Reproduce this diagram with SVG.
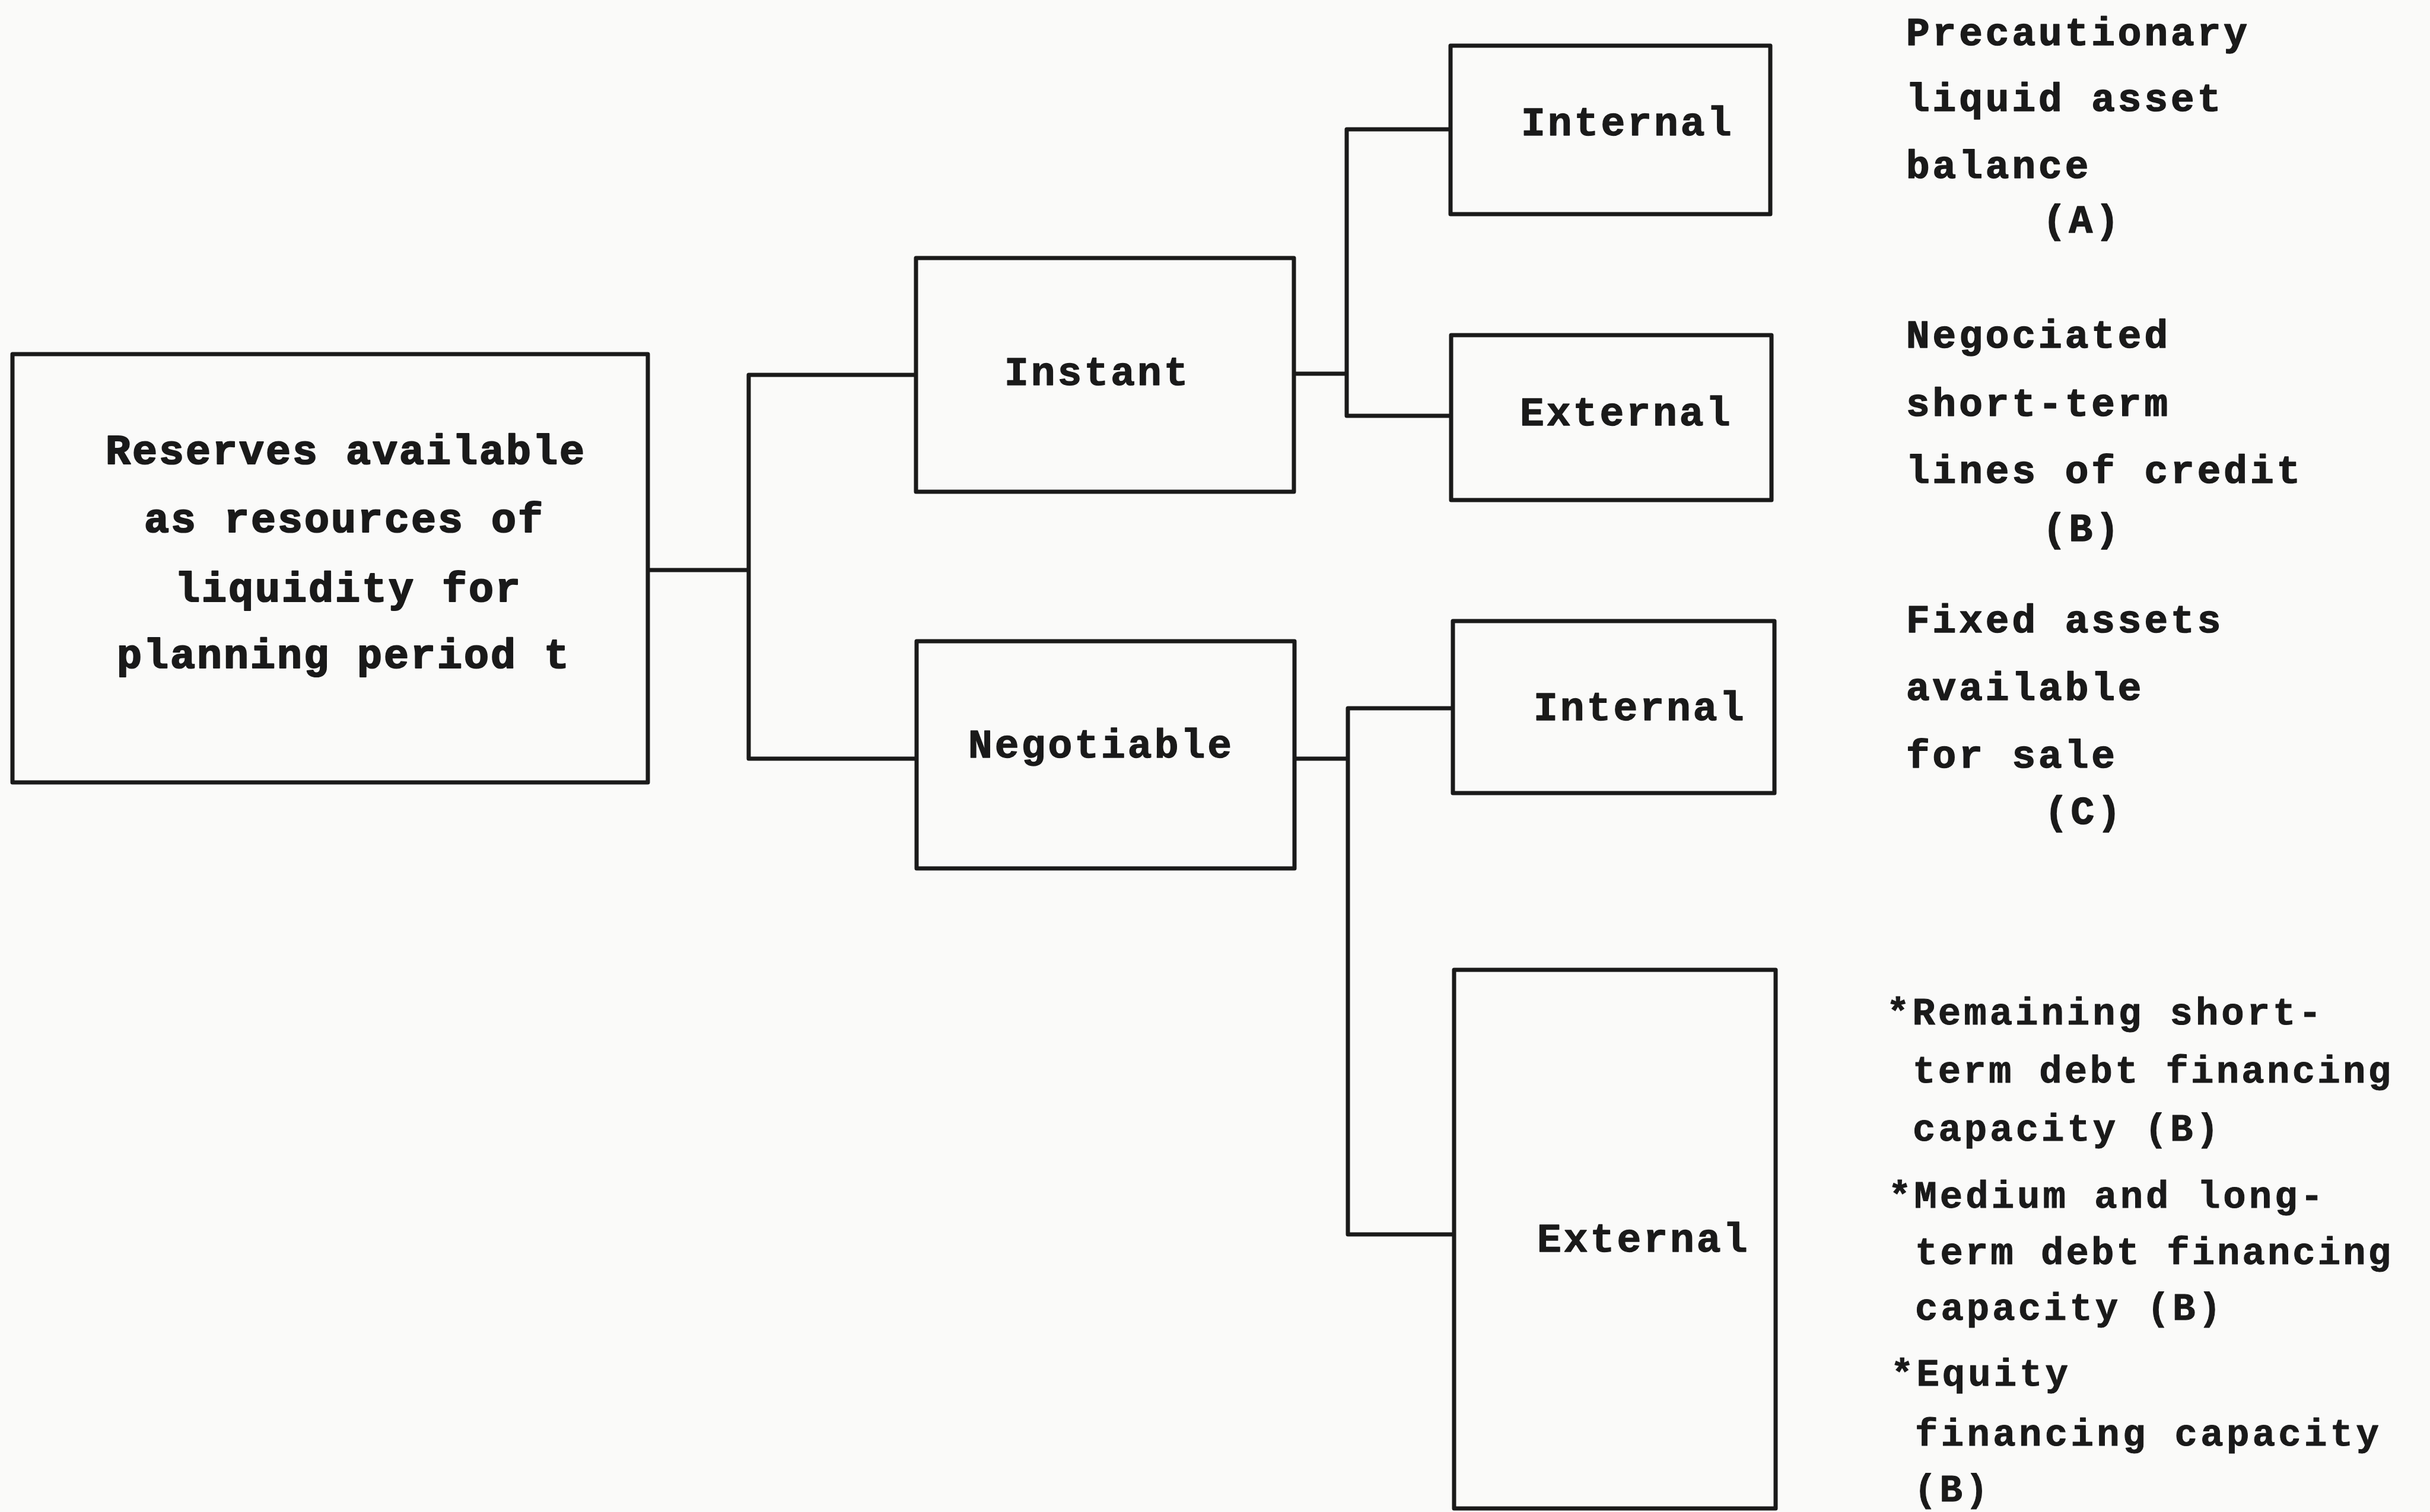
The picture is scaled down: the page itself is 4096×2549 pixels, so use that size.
<svg xmlns="http://www.w3.org/2000/svg" width="4096" height="2549" viewBox="0 0 4096 2549">
  <style>
    .box { fill: none; stroke: #1a1a1a; stroke-width: 7; stroke-linejoin: round; }
    .wire { fill: none; stroke: #1a1a1a; stroke-width: 7; stroke-linejoin: round; }
    .tt { font-family: "Liberation Mono", "DejaVu Sans Mono", monospace; font-weight: 700; fill: #1a1a1a; stroke: #1a1a1a; stroke-linejoin: round; }
    .main { font-size: 70px; letter-spacing: 3px; stroke-width: 2.2px; }
    .lbl { font-size: 68px; letter-spacing: 4px; stroke-width: 1.4px; }
    .note { font-size: 66px; letter-spacing: 5px; stroke-width: 1.6px; }
    .note2 { font-size: 64px; letter-spacing: 5px; stroke-width: 1px; }
  </style>

  <rect width="4096" height="2549" fill="#fafaf9"/>

  <!-- tree connectors: elbow joins from each parent to its two children -->
  <g id="connectors">
    <path class="wire" d="M1092 961 H1262"/>
    <path class="wire" d="M1544 632 H1262 V1279 H1545"/>
    <path class="wire" d="M2181 630 H2270"/>
    <path class="wire" d="M2445 218 H2270 V701 H2446"/>
    <path class="wire" d="M2182 1279 H2272"/>
    <path class="wire" d="M2449 1194 H2272 V2081 H2451"/>
  </g>

  <g id="reserves">
    <rect class="box" x="21" y="597" width="1071" height="722"/>
    <text class="tt main" x="178" y="782">Reserves available</text>
    <text class="tt main" x="243" y="897">as resources of</text>
    <text class="tt main" x="295" y="1014">liquidity for</text>
    <text class="tt main" x="197" y="1126">planning period t</text>
  </g>

  <g id="instant">
    <rect class="box" x="1544" y="435" width="637" height="394"/>
    <text class="tt lbl" x="1693" y="649">Instant</text>
  </g>

  <g id="negotiable">
    <rect class="box" x="1545" y="1081" width="637" height="383"/>
    <text class="tt lbl" x="1632" y="1277">Negotiable</text>
  </g>

  <g id="instant-internal">
    <rect class="box" x="2445" y="77" width="539" height="284"/>
    <text class="tt lbl" x="2564" y="228">Internal</text>
  </g>

  <g id="instant-external">
    <rect class="box" x="2446" y="565" width="540" height="278"/>
    <text class="tt lbl" x="2562" y="717">External</text>
  </g>

  <g id="negotiable-internal">
    <rect class="box" x="2449" y="1047" width="542" height="290"/>
    <text class="tt lbl" x="2585" y="1214">Internal</text>
  </g>

  <g id="negotiable-external">
    <rect class="box" x="2451" y="1635" width="542" height="908"/>
    <text class="tt lbl" x="2591" y="2110">External</text>
  </g>

  <g id="note-a">
    <text class="tt note" x="3213" y="76">Precautionary</text>
    <text class="tt note" x="3213" y="187">liquid asset</text>
    <text class="tt note" x="3213" y="300">balance</text>
    <text class="tt note" x="3443" y="392">(A)</text>
  </g>

  <g id="note-b">
    <text class="tt note" x="3213" y="586">Negociated</text>
    <text class="tt note" x="3213" y="701">short-term</text>
    <text class="tt note" x="3213" y="814">lines of credit</text>
    <text class="tt note" x="3443" y="912">(B)</text>
  </g>

  <g id="note-c">
    <text class="tt note" x="3213" y="1066">Fixed assets</text>
    <text class="tt note" x="3213" y="1180">available</text>
    <text class="tt note" x="3213" y="1294">for sale</text>
    <text class="tt note" x="3446" y="1389">(C)</text>
  </g>

  <g id="note-external">
    <text class="tt note2" x="3180" y="1727">*Remaining short-</text>
    <text class="tt note2" x="3224" y="1825" textLength="811" lengthAdjust="spacing">term debt financing</text>
    <text class="tt note2" x="3224" y="1923">capacity (B)</text>
    <text class="tt note2" x="3183" y="2036">*Medium and long-</text>
    <text class="tt note2" x="3228" y="2131" textLength="807" lengthAdjust="spacing">term debt financing</text>
    <text class="tt note2" x="3228" y="2225">capacity (B)</text>
    <text class="tt note2" x="3187" y="2336">*Equity</text>
    <text class="tt note2" x="3228" y="2437" textLength="787" lengthAdjust="spacing">financing capacity</text>
    <text class="tt note2" x="3226" y="2531">(B)</text>
  </g>
</svg>
